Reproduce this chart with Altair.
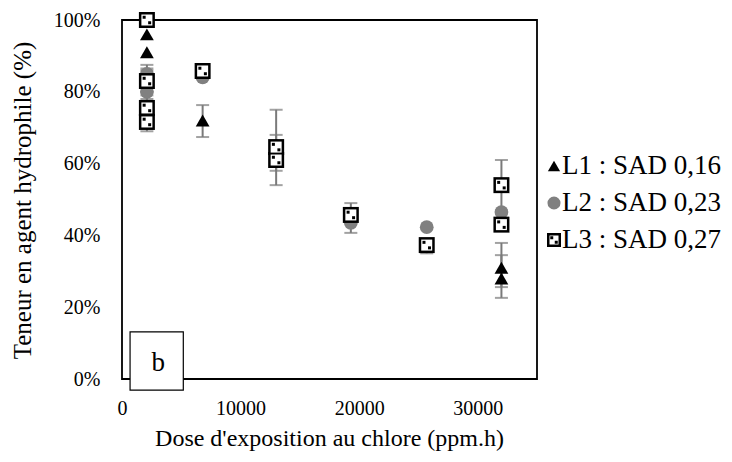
import altair as alt
import pandas as pd

x_title = "Dose d'exposition au chlore (ppm.h)"
y_title = "Teneur en agent hydrophile (%)"
series_names = ["L1 : SAD 0,16", "L2 : SAD 0,23", "L3 : SAD 0,27"]
panel_label = "b"

x_ticks = [0, 10000, 20000, 30000]
y_ticks = [0, 0.2, 0.4, 0.6, 0.8, 1.0]

l1_x = [2100, 2100, 6800, 32000, 32000]
l1_y = [0.96, 0.91, 0.72, 0.31, 0.28]

l2_x = [2100, 2100, 6800, 13000, 19300, 25700, 32000]
l2_y = [0.85, 0.80, 0.84, 0.63, 0.435, 0.423, 0.465]

l3_x = [2100, 2100, 2100, 2100, 6800, 13000, 13000, 19300, 25700, 32000, 32000]
l3_y = [1.00, 0.83, 0.755, 0.716, 0.858, 0.646, 0.61, 0.457, 0.373, 0.54, 0.43]

err_x = [2100, 2100, 2100, 2100, 6800, 13000, 13000, 19300, 25700, 32000, 32000, 32000]
err_lo = [0.69, 0.78, 0.80, 0.72, 0.674, 0.58, 0.54, 0.407, 0.35, 0.47, 0.256, 0.226]
err_hi = [0.875, 0.865, 0.86, 0.79, 0.763, 0.75, 0.68, 0.49, 0.39, 0.61, 0.379, 0.345]

# panel-label box, in data units
box_x = [680, 5170]
box_y = [-0.031, 0.131]
label_pos = [3050, 0.045]

GREY = "#808080"
ERR = "#7a7a7a"
FONT = "Liberation Serif"

xs = alt.Scale(domain=[0, 35000], nice=False)
ys = alt.Scale(domain=[0, 1], nice=False)

d1 = pd.DataFrame({"x": l1_x, "y": l1_y})
d2 = pd.DataFrame({"x": l2_x, "y": l2_y})
d3 = pd.DataFrame({"x": l3_x, "y": l3_y})
de = pd.DataFrame({"x": err_x, "lo": err_lo, "hi": err_hi})

X = alt.X("x:Q", scale=xs, axis=alt.Axis(
    values=x_ticks, format="d", title=x_title, grid=False, ticks=False, tickSize=0,
    domain=False, labelPadding=19, labelFontSize=20, titleFontSize=24,
    labelFont=FONT, titleFont=FONT, labelColor="black", titleColor="black",
    titleFontWeight="normal",
    titleX=207, titleY=59, titleBaseline="middle", labelFlush=False))
Y = alt.Y("y:Q", scale=ys, axis=alt.Axis(
    values=y_ticks, format=".0%", title=y_title, grid=False, ticks=False, tickSize=0,
    domain=False, labelPadding=22, labelFontSize=20, titleFontSize=25,
    labelFont=FONT, titleFont=FONT, labelColor="black", titleColor="black",
    titleFontWeight="normal",
    titleX=-100, titleY=180, titleAngle=-90, titleBaseline="middle", labelFlush=False))

base_e = alt.Chart(de)
err_rule = base_e.mark_rule(color=ERR, strokeWidth=2).encode(
    x=alt.X("x:Q", scale=xs), y=alt.Y("lo:Q", scale=ys), y2="hi:Q")
err_lo_t = base_e.mark_tick(color=ERR, thickness=2, size=13, orient="horizontal").encode(
    x=alt.X("x:Q", scale=xs), y=alt.Y("lo:Q", scale=ys))
err_hi_t = base_e.mark_tick(color=ERR, thickness=2, size=13, orient="horizontal").encode(
    x=alt.X("x:Q", scale=xs), y=alt.Y("hi:Q", scale=ys))

p1 = alt.Chart(d1).mark_point(shape="triangle-up", filled=True, color="black",
                              size=190, opacity=1).encode(x=X, y=Y)
p2 = alt.Chart(d2).mark_circle(color=GREY, size=190, opacity=1).encode(
    x=alt.X("x:Q", scale=xs), y=alt.Y("y:Q", scale=ys))


def l3_layers(data, enc, s=16):
    inner = (s - 5)
    outer = alt.Chart(data).mark_square(color="black", size=s * s, opacity=1).encode(**enc)
    white = alt.Chart(data).mark_square(color="white", size=inner * inner, opacity=1).encode(**enc)
    q = max(3, inner // 3)
    o = inner / 4
    dot_a = alt.Chart(data).mark_square(color="black", size=q * q, opacity=1, xOffset=-o,
                                        yOffset=-o).encode(**enc)
    dot_b = alt.Chart(data).mark_square(color="black", size=q * q, opacity=1, xOffset=o,
                                        yOffset=o).encode(**enc)
    return [outer, white, dot_a, dot_b]


enc3 = {"x": alt.X("x:Q", scale=xs), "y": alt.Y("y:Q", scale=ys)}
p3 = l3_layers(d3, enc3, 16)

# panel label box
dbox = pd.DataFrame({"x": [box_x[0]], "x2": [box_x[1]], "y": [box_y[0]], "y2": [box_y[1]]})
box = alt.Chart(dbox).mark_rect(fill="white", stroke="black", strokeWidth=1.2).encode(
    x=alt.X("x:Q", scale=xs), x2="x2:Q", y=alt.Y("y:Q", scale=ys), y2="y2:Q")
dlab = pd.DataFrame({"x": [label_pos[0]], "y": [label_pos[1]], "t": [panel_label]})
lab = alt.Chart(dlab).mark_text(font=FONT, fontSize=27, color="black", baseline="middle",
                                align="center").encode(
    x=alt.X("x:Q", scale=xs), y=alt.Y("y:Q", scale=ys), text="t:N")

# manual legend (pixel offsets relative to plot area)
leg_y = [146, 183, 220]
leg_sym_x = 432
leg_txt_x = 440
dl = pd.DataFrame({"t": series_names, "py": leg_y})
leg_txt = alt.Chart(dl).mark_text(font=FONT, fontSize=27, color="black", align="left",
                                  baseline="middle").encode(
    x=alt.value(leg_txt_x), y=alt.Y("py:Q", scale=None), text="t:N")
dl1 = dl.iloc[[0]]
dl2 = dl.iloc[[1]]
dl3 = dl.iloc[[2]]
leg1 = alt.Chart(dl1).mark_point(shape="triangle-up", filled=True, color="black",
                                 size=150, opacity=1).encode(
    x=alt.value(leg_sym_x), y=alt.Y("py:Q", scale=None))
leg2 = alt.Chart(dl2).mark_circle(color=GREY, size=170, opacity=1).encode(
    x=alt.value(leg_sym_x), y=alt.Y("py:Q", scale=None))
leg3 = l3_layers(dl3, {"x": alt.value(leg_sym_x), "y": alt.Y("py:Q", scale=None)}, 14)

chart = alt.layer(
    err_rule, err_lo_t, err_hi_t, p1, p2, *p3, box, lab, leg_txt, leg1, leg2, *leg3
).properties(
    width=415, height=359, autosize="none", background="white",
    padding={"left": 114, "top": 12, "right": 187, "bottom": 75},
).configure_view(stroke="black", strokeWidth=1.8)

chart.save("out.html", embed_options={"renderer": "svg", "actions": False})
